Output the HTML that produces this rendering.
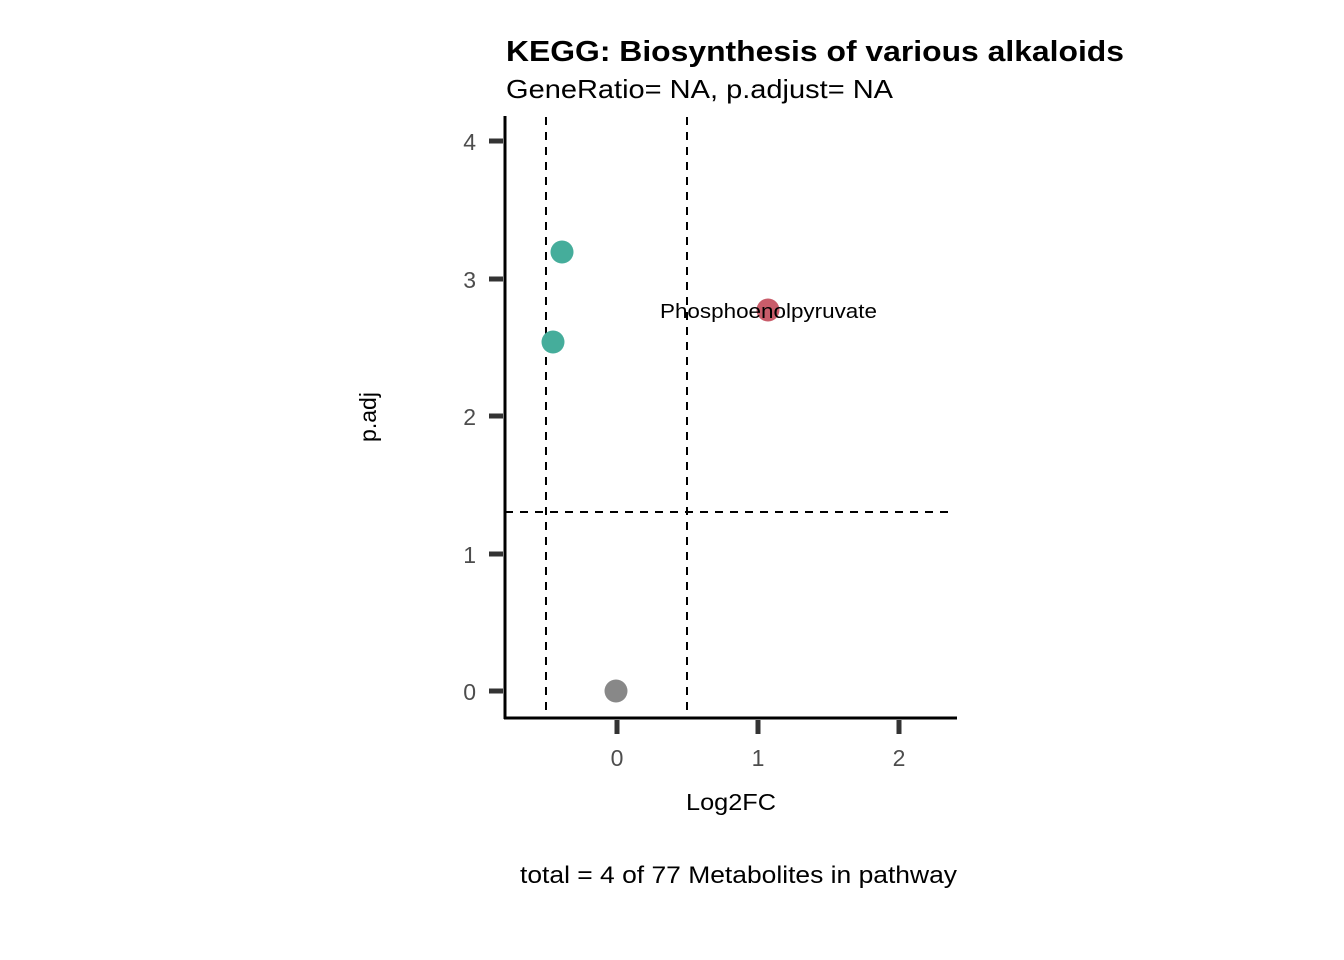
<!DOCTYPE html>
<html><head><meta charset="utf-8"><style>
html,body{margin:0;padding:0;background:#fff;}
svg{display:block;font-family:"Liberation Sans",Arial,sans-serif;}
</style></head><body>
<svg width="1344" height="960" viewBox="0 0 1344 960" xmlns="http://www.w3.org/2000/svg">
<rect width="1344" height="960" fill="#fff"/>
<text x="506" y="61" font-size="29" font-weight="bold" fill="#000" textLength="618" lengthAdjust="spacingAndGlyphs">KEGG: Biosynthesis of various alkaloids</text>
<text x="506" y="98" font-size="26" fill="#000" textLength="387" lengthAdjust="spacingAndGlyphs">GeneRatio= NA, p.adjust= NA</text>
<g stroke="#000" stroke-width="2" stroke-dasharray="8,7" fill="none">
<line x1="546" y1="117" x2="546" y2="718"/>
<line x1="687" y1="117" x2="687" y2="718"/>
<line x1="505" y1="512" x2="950" y2="512"/>
</g>
<line x1="505" y1="116" x2="505" y2="719" stroke="#000" stroke-width="3"/>
<line x1="504" y1="718" x2="957" y2="718" stroke="#000" stroke-width="3"/>
<g stroke="#333" stroke-width="5">
<line x1="489" y1="141" x2="503" y2="141"/>
<line x1="489" y1="279" x2="503" y2="279"/>
<line x1="489" y1="416" x2="503" y2="416"/>
<line x1="489" y1="554" x2="503" y2="554"/>
<line x1="489" y1="691" x2="503" y2="691"/>
<line x1="617" y1="720" x2="617" y2="734"/>
<line x1="758" y1="720" x2="758" y2="734"/>
<line x1="899" y1="720" x2="899" y2="734"/>
</g>
<g font-size="23" fill="#4d4d4d" text-anchor="end">
<text x="476" y="150">4</text><text x="476" y="288">3</text><text x="476" y="425">2</text><text x="476" y="563">1</text><text x="476" y="700">0</text>
</g>
<g font-size="23" fill="#4d4d4d" text-anchor="middle">
<text x="617" y="766">0</text><text x="758" y="766">1</text><text x="899" y="766">2</text>
</g>
<text x="686" y="810" font-size="23" fill="#000" textLength="90" lengthAdjust="spacingAndGlyphs">Log2FC</text>
<text transform="translate(376,417) rotate(-90)" font-size="23" text-anchor="middle" fill="#000">p.adj</text>
<circle cx="562" cy="252" r="11.5" fill="#45AD9B"/>
<circle cx="553" cy="342" r="11.5" fill="#45AD9B"/>
<circle cx="768" cy="310" r="11.5" fill="#C95C6A"/>
<circle cx="616" cy="691" r="11.5" fill="#888888"/>
<text x="660" y="318" font-size="20" fill="#000" textLength="217" lengthAdjust="spacingAndGlyphs">Phosphoenolpyruvate</text>
<text x="520" y="883" font-size="24" fill="#000" textLength="437" lengthAdjust="spacingAndGlyphs">total = 4 of 77 Metabolites in pathway</text>
</svg>
</body></html>
